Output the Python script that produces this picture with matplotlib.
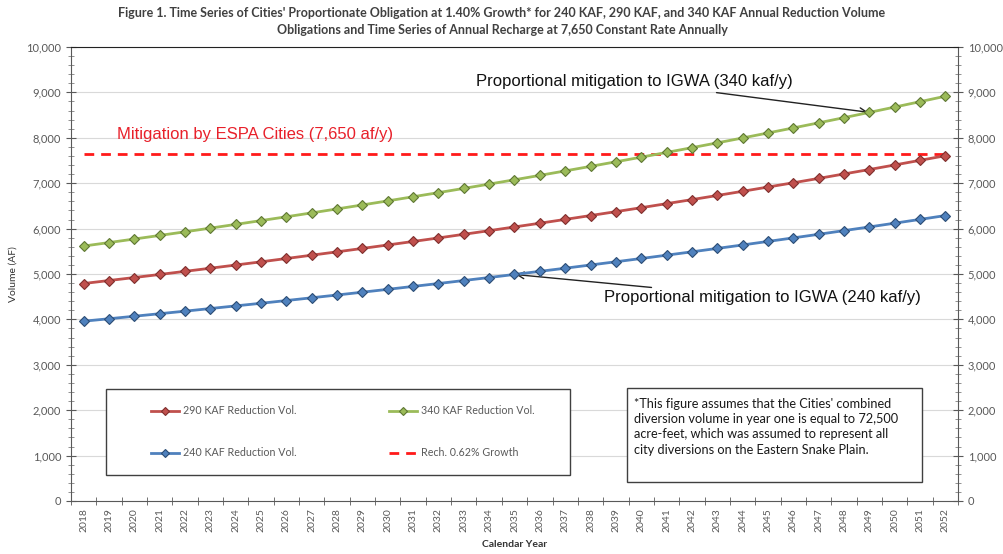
import matplotlib
matplotlib.use("Agg")
import matplotlib.pyplot as plt
from matplotlib.ticker import FuncFormatter, MultipleLocator, FixedLocator
from matplotlib.patches import Rectangle

years = list(range(2018, 2053))
vol_240 = [3960, 4014, 4069, 4125, 4181, 4239, 4297, 4355, 4415, 4476, 4537, 4599,
           4662, 4726, 4790, 4856, 4922, 4990, 5058, 5127, 5198, 5269, 5341, 5414,
           5488, 5563, 5639, 5717, 5795, 5874, 5955, 6036, 6119, 6202, 6287]
vol_290 = [4790, 4856, 4922, 4989, 5058, 5127, 5197, 5268, 5341, 5414, 5488, 5563,
           5639, 5716, 5794, 5874, 5954, 6036, 6118, 6202, 6287, 6373, 6460, 6549,
           6638, 6729, 6821, 6915, 7009, 7105, 7203, 7301, 7401, 7503, 7605]
vol_340 = [5615, 5692, 5770, 5849, 5929, 6010, 6092, 6176, 6260, 6346, 6433, 6521,
           6610, 6701, 6792, 6885, 6980, 7075, 7172, 7270, 7370, 7471, 7573, 7677,
           7782, 7888, 7996, 8106, 8217, 8329, 8443, 8559, 8676, 8795, 8915]
recharge = [7650] * len(years)

title = ("Figure 1. Time Series of Cities' Proportionate Obligation at 1.40% Growth* for 240 KAF, 290 KAF, and 340 KAF Annual Reduction Volume\n"
         "Obligations and Time Series of Annual Recharge at 7,650 Constant Rate Annually")
note = ("*This figure assumes that the Cities' combined\n"
        "diversion volume in year one is equal to 72,500\n"
        "acre-feet, which was assumed to represent all\n"
        "city diversions on the Eastern Snake Plain.")

plt.rcParams['font.family'] = ['Lato', 'DejaVu Sans']
fig = plt.figure(figsize=(10.04, 5.54), dpi=100)
ax = fig.add_axes([0.0707, 0.0957, 0.8835, 0.8195])

x = list(range(len(years)))
gray_txt = '#595959'

l290, = ax.plot(x, vol_290, color='#c0504d', lw=2, marker='D', ms=5.5,
                mfc='#c0504d', mec='#7f2f2d', mew=0.8, zorder=4)
l340, = ax.plot(x, vol_340, color='#9bbb59', lw=2, marker='D', ms=5.5,
                mfc='#9bbb59', mec='#5f7733', mew=0.8, zorder=4)
l240, = ax.plot(x, vol_240, color='#4f81bd', lw=2, marker='D', ms=5.5,
                mfc='#4f81bd', mec='#2c4d75', mew=0.8, zorder=4)
lrech, = ax.plot(x, recharge, color='#ff1a1a', lw=2, dashes=(3.5, 2.5), zorder=3)

ax.set_xlim(-0.5, len(years) - 0.5)
ax.set_ylim(0, 10000)
ax.yaxis.set_major_locator(MultipleLocator(1000))
ax.yaxis.set_minor_locator(MultipleLocator(200))
ax.yaxis.set_major_formatter(FuncFormatter(lambda v, p: f"{int(v):,}"))
ax.set_xticks(x)
ax.set_xticklabels([str(y) for y in years], rotation=90, fontsize=7.5, color=gray_txt)
ax.xaxis.set_minor_locator(FixedLocator([i - 0.5 for i in range(len(years) + 1)]))
ax.tick_params(axis='x', which='major', length=0, pad=5)
ax.tick_params(axis='x', which='minor', direction='inout', length=6, color='#595959')
ax.tick_params(axis='y', which='major', direction='inout', length=7, color='#595959',
               labelsize=8, labelcolor=gray_txt, left=True, right=True, labelright=True)
ax.tick_params(axis='y', which='minor', direction='inout', length=4, color='#808080',
               left=True, right=True)
ax.grid(axis='y', which='major', color='#d9d9d9', lw=0.8, zorder=0)
ax.set_axisbelow(True)
for s in ['left', 'right', 'bottom']:
    ax.spines[s].set_color('#595959')
ax.spines['top'].set_color('#222222')

ax.set_ylabel('Volume (AF)', fontsize=7.5, color='#333333', labelpad=6)
ax.set_xlabel('Calendar Year', fontsize=7.5, color='#333333', fontweight='bold', labelpad=6)
fig.suptitle(title, fontsize=9.0, fontweight='bold', color='#404040', y=0.988, linespacing=1.55)

ax.text(1.32, 8062, 'Mitigation by ESPA Cities (7,650 af/y)', color='#e8202a',
        fontsize=12, family=['Liberation Sans'], ha='left', va='center')
ax.annotate('Proportional mitigation to IGWA (340 kaf/y)', xy=(31, vol_340[31]),
            xytext=(15.48, 9229), fontsize=12, family=['Liberation Sans'],
            ha='left', va='center', color='#111111',
            arrowprops=dict(arrowstyle='->', color='#222222', lw=1, shrinkA=2, shrinkB=1))
ax.annotate('Proportional mitigation to IGWA (240 kaf/y)', xy=(17, vol_240[17]),
            xytext=(20.53, 4471), fontsize=12, family=['Liberation Sans'],
            ha='left', va='center', color='#111111',
            arrowprops=dict(arrowstyle='->', color='#222222', lw=1, shrinkA=2, shrinkB=1))

# legend frame + legend
ax.add_patch(Rectangle((0.039, 0.057), 0.5235, 0.19, transform=ax.transAxes,
                       fill=True, facecolor='white', edgecolor='#404040', lw=1, zorder=5))
leg = ax.legend([l290, l240, l340, lrech],
                ['290 KAF Reduction Vol.', '240 KAF Reduction Vol.',
                 '340 KAF Reduction Vol.', 'Rech. 0.62% Growth'],
                ncol=2, frameon=False, fontsize=7.7, labelcolor=gray_txt,
                loc='center left', bbox_to_anchor=(0.0904, 0.152),
                borderaxespad=0, borderpad=0, handlelength=2.6, handletextpad=0.4,
                columnspacing=8.6, labelspacing=2.9, markerscale=0.7)
leg.set_zorder(6)

ax.add_patch(Rectangle((0.6268, 0.042), 0.3326, 0.2075, transform=ax.transAxes,
                       fill=True, facecolor='white', edgecolor='#404040', lw=1, zorder=5))
ax.text(0.635, 0.227, note, transform=ax.transAxes, fontsize=9.2, color='#1a1a1a',
        ha='left', va='top', linespacing=1.32, zorder=6)

fig.savefig('out.png', dpi=100)
